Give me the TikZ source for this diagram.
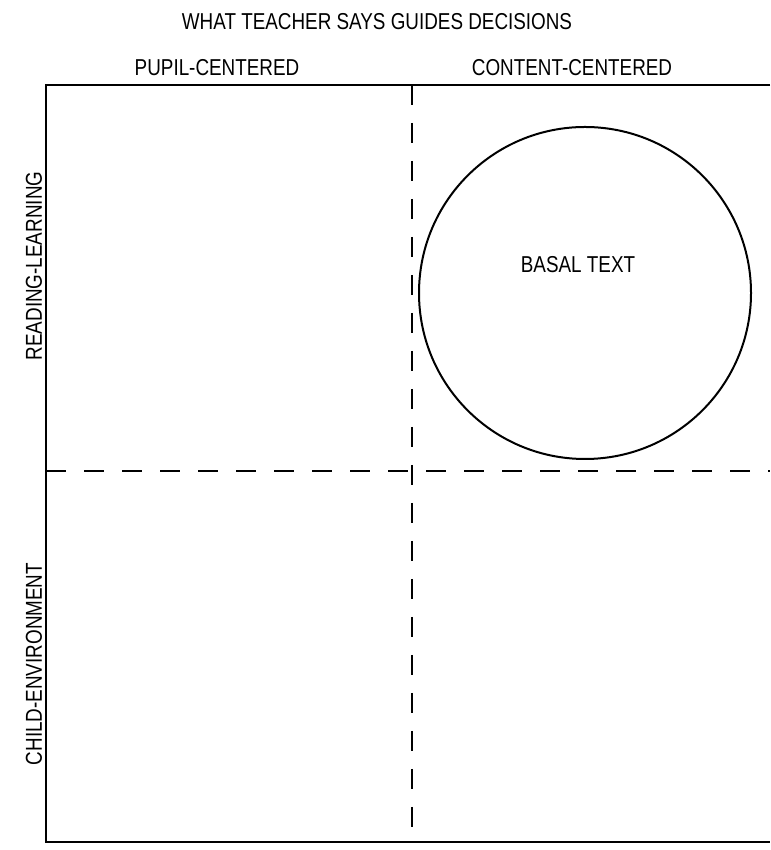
\documentclass[tikz,border=0pt]{standalone}
\usepackage{fontspec}
\setmainfont[FakeStretch=0.82]{Liberation Sans}
\begin{document}
\begin{tikzpicture}[x=1pt,y=1pt]
		\tikzstyle{every node}=[font=\fontsize{23pt}{27pt}\selectfont]
		\tikzstyle{divider}=[line width=1.6pt, dash pattern=on 20pt off 18pt]
		
		\useasboundingbox (0,0) rectangle (770,850);
		
		% frame
		\draw[line width=1.8pt] (770,765) -- (46,765) -- (46,8) -- (770,8);
		
		% quadrant lines
		\draw[divider] (412,765) -- (412,8);
		\draw[divider] (46,379) -- (770,379);
		
		\draw[line width=2pt] (585,557) circle (166);
		
		\node (title) at (377,828) {WHAT TEACHER SAYS GUIDES DECISIONS};
		\node (pupil) at (217,782) {PUPIL-CENTERED};
		\node (content) at (572,782) {CONTENT-CENTERED};
		\node[rotate=90] (reading) at (34,584) {READING-LEARNING};
		\node[rotate=90] (child) at (34,186) {CHILD-ENVIRONMENT};
		\node (basal) at (578,585) {BASAL TEXT};
		
	\end{tikzpicture}
\end{document}
